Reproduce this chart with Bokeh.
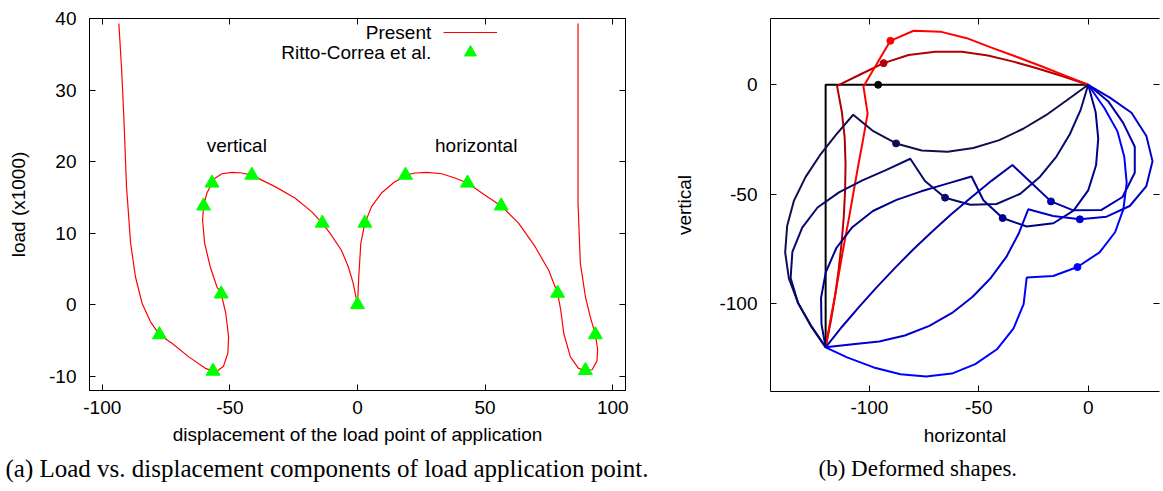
from bokeh.plotting import figure
from bokeh.models import Range1d, LinearAxis, FixedTicker, Label, Legend, LegendItem, Title
from bokeh.layouts import row
from bokeh.embed import file_html
from bokeh.resources import INLINE

# ---------------- (a) load vs displacement ----------------
vert_disp = [0, -1.7, -3.6, -6.3, -10.8, -13.8, -18.0, -24.5, -32.3, -41.4, -45.3, -49.2, -53.1,
             -55.7, -57.0, -59.0, -60.3, -60.7, -59.9, -57.7, -55.1, -53.4, -51.6, -50.5, -50.8,
             -52.5, -55.1, -56.6, -59.6, -66.1, -72.7, -77.6, -81.1, -84.4, -87.0, -88.9, -90.5,
             -91.5, -92.4, -93.5]
vert_load = [0, 3.0, 5.3, 7.6, 10.0, 11.4, 13.0, 14.9, 16.5, 18.1, 18.4, 18.5, 18.3,
             17.7, 17.0, 15.6, 13.8, 11.8, 8.6, 5.3, 2.5, 1.5, -1.2, -4.5, -6.8,
             -8.6, -9.3, -9.3, -8.9, -7.3, -5.4, -4.2, -2.4, 0.2, 3.9, 8.6, 16.5,
             25.8, 32.8, 39.3]
horiz_disp = [0, 0.5, 1.3, 2.9, 5.5, 9.4, 14.0, 18.8, 22.5, 27.1, 33.0, 38.2, 43.1, 50.0, 56.3,
              63.1, 69.6, 74.9, 78.4, 79.6, 80.8, 83.4, 86.6, 89.3, 91.9, 93.8, 94.1, 93.2,
              91.2, 89.3, 87.3, 86.4, 86.4, 86.4]
horiz_load = [0, 3.9, 8.6, 11.4, 13.7, 15.6, 17.0, 18.1, 18.4, 18.5, 18.3, 17.7, 17.0, 15.3, 13.8,
              11.4, 8.1, 4.8, 1.6, -0.7, -4.0, -7.3, -8.9, -9.2, -9.1, -7.9, -6.3, -4.2,
              -1.7, 1.1, 5.8, 14.2, 28.1, 39.3]
ritto_disp = [0, -13.8, -41.4, -57.0, -60.3, -53.4, -56.6, -77.6, 2.9, 18.8, 43.1, 56.3, 78.4, 89.3, 93.2]
ritto_load = [0, 11.4, 18.1, 17.0, 13.8, 1.5, -9.3, -4.2, 11.4, 18.1, 17.0, 13.8, 1.6, -9.2, -4.2]
xticks_a = [-100, -50, 0, 50, 100]
yticks_a = [-10, 0, 10, 20, 30, 40]

# ---------------- (b) deformed shapes ----------------
und_x = [-120, -120, 0]
und_y = [-120, 0, 0]
s1_x = [-120, -117.6, -115.6, -114.0, -112.7, -111.7, -111.1, -110.9, -111.3, -112.6, -114.8,
        -104.2, -93.5, -82.1, -69.9, -57.7, -45.8, -34.2, -22.7, -11.3, 0]
s1_y = [-120, -107.9, -96.0, -84.1, -72.2, -60.2, -48.2, -36.2, -24.2, -12.3, -0.5,
        4.7, 9.9, 13.6, 15.1, 15.1, 13.4, 10.6, 7.3, 3.8, 0]
s2_x = [-120, -117.9, -115.7, -113.6, -111.5, -109.3, -107.2, -105.1, -102.9, -100.8, -102.7,
        -96.6, -90.4, -79.8, -67.6, -55.5, -44.2, -32.8, -21.7, -10.8, 0]
s2_y = [-120, -108.1, -96.3, -84.4, -72.5, -60.7, -48.8, -36.9, -25.1, -13.2, -0.8,
        9.6, 20.1, 24.7, 24.3, 21.3, 17.0, 12.8, 8.6, 4.3, 0]
s3_x = [-120, -126.8, -132.6, -136.8, -138.5, -137.6, -134.5, -129.2, -122.6, -115.2, -107.4,
        -98.2, -87.8, -76.1, -64.2, -52.5, -40.6, -29.7, -19.3, -9.9, 0]
s3_y = [-120, -110.2, -99.7, -88.5, -76.6, -64.6, -53.0, -42.2, -32.2, -22.8, -13.7,
        -21.2, -26.8, -30.0, -30.6, -28.9, -25.3, -20.1, -13.9, -7.2, 0]
s4_x = [-120, -126.6, -132.6, -136.0, -135.2, -130.7, -123.7, -113.9, -103.2, -92.2, -81.3,
        -74.6, -65.4, -53.8, -41.9, -31.0, -22.0, -14.5, -8.4, -3.5, 0]
s4_y = [-120, -110.2, -99.8, -88.3, -76.4, -65.3, -56.1, -49.2, -43.7, -38.9, -33.8,
        -44.0, -51.6, -54.8, -54.5, -49.8, -42.0, -32.8, -22.6, -11.6, 0]
s5_x = [-120, -121.9, -122.1, -119.9, -115.1, -107.8, -98.4, -87.6, -76.3, -64.8, -53.3,
        -47.9, -39.1, -28.1, -15.9, -6.7, 0.0, 3.6, 4.6, 3.4, 0]
s5_y = [-120, -109.4, -97.4, -85.6, -74.6, -65.1, -57.7, -52.6, -48.7, -45.3, -41.9,
        -52.8, -60.9, -64.8, -63.3, -57.5, -48.3, -36.8, -24.6, -12.4, 0]
s6_x = [-120, -112.5, -104.7, -96.7, -88.5, -80.1, -71.4, -62.6, -53.5, -44.2, -34.6,
        -25.8, -17.0, -6.8, 6.1, 15.7, 21.3, 21.3, 16.0, 9.1, 0]
s6_y = [-120, -110.6, -101.5, -92.6, -83.9, -75.4, -67.2, -59.2, -51.5, -43.9, -36.7,
        -45.0, -53.3, -57.4, -57.2, -51.3, -40.2, -28.3, -17.4, -7.5, 0]
s7_x = [-120, -107.6, -95.5, -83.8, -72.6, -62.2, -52.8, -44.5, -37.4, -31.8, -27.4,
        -16.0, -3.8, 8.4, 19.0, 26.6, 29.4, 26.6, 19.8, 9.9, 0]
s7_y = [-120, -118.6, -117.3, -114.6, -110.2, -104.3, -96.9, -88.3, -78.7, -68.1, -56.9,
        -60.0, -61.5, -60.3, -55.4, -46.3, -34.9, -23.4, -12.8, -5.9, 0]
s8_x = [-120, -110.2, -98.0, -85.8, -74.1, -62.3, -51.6, -41.7, -34.1, -29.5, -28.1,
        -16.0, -4.9, 5.2, 12.3, 16.1, 17.6, 16.5, 13.4, 7.4, 0]
s8_y = [-120, -124.6, -129.2, -132.3, -133.3, -132.0, -127.7, -120.9, -111.3, -100.3, -88.1,
        -87.4, -83.3, -76.6, -67.4, -56.8, -44.8, -32.9, -21.3, -10.6, 0]
load_x = [-96.0, -93.5, -90.4, -87.8, -65.4, -39.1, -17.0, -3.8, -4.9]
load_y = [0.0, 9.9, 20.1, -26.8, -51.6, -60.9, -53.3, -61.5, -83.3]
shape_colors = ["#000000", "#b00000", "#ff0000", "#10104f", "#08086e", "#00008c",
                "#0000aa", "#0000cc", "#0000ff"]
xticks_b = [-100, -50, 0]
yticks_b = [-100, -50, 0]

FONT = "Liberation Sans"
FS = "19px"


def style_axis(ax, ticks, labels=True, line=True):
    ax.ticker = FixedTicker(ticks=ticks)
    ax.major_tick_in = 6
    ax.major_tick_out = 0
    ax.minor_tick_line_color = None
    ax.major_tick_line_color = "black"
    ax.axis_line_color = "black" if line else None
    ax.major_label_text_font = FONT
    ax.major_label_text_font_size = FS
    ax.major_label_text_color = "black"
    ax.axis_label_text_font = FONT
    ax.axis_label_text_font_size = FS
    ax.axis_label_text_font_style = "normal"
    ax.axis_label_text_color = "black"
    ax.major_label_overrides = {t: str(t) for t in ticks}
    if not labels:
        ax.major_label_text_color = None
        ax.major_label_text_font_size = "1px"
        ax.major_label_standoff = 0


# ---------- figure (a) ----------
p1 = figure(width=660, height=491, frame_width=536, frame_height=372,
            x_range=Range1d(-105, 105), y_range=Range1d(-12, 40),
            min_border_left=89, min_border_right=35, min_border_top=15, min_border_bottom=104,
            output_backend="svg", toolbar_location=None)
p1.grid.visible = False
p1.outline_line_color = "black"
p1.outline_line_width = 1
style_axis(p1.xaxis[0], xticks_a)
style_axis(p1.yaxis[0], yticks_a)
p1.xaxis[0].axis_label = "displacement of the load point of application"
p1.yaxis[0].axis_label = "load (x1000)"
p1.xaxis[0].major_label_standoff = 10
p1.xaxis[0].axis_label_standoff = 7
p1.yaxis[0].major_label_standoff = 13
p1.yaxis[0].axis_label_standoff = 17
ax_top = LinearAxis()
style_axis(ax_top, xticks_a, labels=False)
p1.add_layout(ax_top, "above")
ax_right = LinearAxis()
style_axis(ax_right, yticks_a, labels=False)
p1.add_layout(ax_right, "right")

r_v = p1.line(vert_disp, vert_load, line_color="#ff0000", line_width=1.2)
p1.line(horiz_disp, horiz_load, line_color="#ff0000", line_width=1.2)
r_t = p1.scatter(ritto_disp, ritto_load, marker="triangle", size=14,
                 fill_color="#00ff00", line_color="#00ff00")

for rend, loc in [(r_v, (354, 343)), (r_t, (354, 323))]:
    lg = Legend(items=[LegendItem(label="", renderers=[rend])],
                location=loc, glyph_width=54, glyph_height=30, label_height=30,
                label_width=0, label_standoff=0, padding=0, margin=0, spacing=0,
                border_line_color=None, background_fill_alpha=0)
    p1.add_layout(lg)

for txt, yy in [("Present", 38.0), ("Ritto-Correa et al.", 35.2)]:
    p1.add_layout(Label(x=28.9, y=yy, text=txt, text_align="right", text_baseline="middle",
                        text_font=FONT, text_font_size=FS, text_color="black"))
p1.add_layout(Label(x=-47.3, y=22.3, text="vertical", text_align="center", text_baseline="middle",
                    text_font=FONT, text_font_size=FS, text_color="black"))
p1.add_layout(Label(x=46.5, y=22.3, text="horizontal", text_align="center", text_baseline="middle",
                    text_font=FONT, text_font_size=FS, text_color="black"))
p1.add_layout(Title(text="(a) Load vs. displacement components of load application point.",
                    align="left", offset=-84, text_font="Liberation Serif", text_font_size="25px",
                    text_font_style="normal", text_color="black"), "below")

# ---------- figure (b) ----------
p2 = figure(width=503, height=491, frame_width=389, frame_height=373,
            x_range=Range1d(-145.2, 32.6), y_range=Range1d(-140.2, 30.3),
            min_border_left=110, min_border_right=4, min_border_top=18, min_border_bottom=100,
            output_backend="svg", toolbar_location=None)
p2.grid.visible = False
p2.outline_line_color = None
style_axis(p2.xaxis[0], xticks_b)
style_axis(p2.yaxis[0], yticks_b)
p2.xaxis[0].axis_label = "horizontal"
p2.yaxis[0].axis_label = "vertical"
p2.xaxis[0].major_label_standoff = 9
p2.xaxis[0].axis_label_standoff = 8
p2.yaxis[0].major_label_standoff = 13
p2.yaxis[0].axis_label_standoff = 21
bx_top = LinearAxis()
style_axis(bx_top, xticks_b, labels=False)
p2.add_layout(bx_top, "above")
bx_right = LinearAxis()
style_axis(bx_right, yticks_b, labels=False, line=False)
p2.add_layout(bx_right, "right")

shapes_x = [und_x, s1_x, s2_x, s3_x, s4_x, s5_x, s6_x, s7_x, s8_x]
shapes_y = [und_y, s1_y, s2_y, s3_y, s4_y, s5_y, s6_y, s7_y, s8_y]
for xs, ys, c in zip(shapes_x, shapes_y, shape_colors):
    p2.line(xs, ys, line_color=c, line_width=2)
p2.scatter(load_x, load_y, marker="circle", size=7, fill_color=shape_colors,
           line_color=shape_colors)
p2.add_layout(Title(text="(b) Deformed shapes.", align="left", offset=48,
                    text_font="Liberation Serif", text_font_size="23px",
                    text_font_style="normal", text_color="black"), "below")

layout = row(p1, p2)
open("out.html", "w").write(file_html(layout, INLINE))
